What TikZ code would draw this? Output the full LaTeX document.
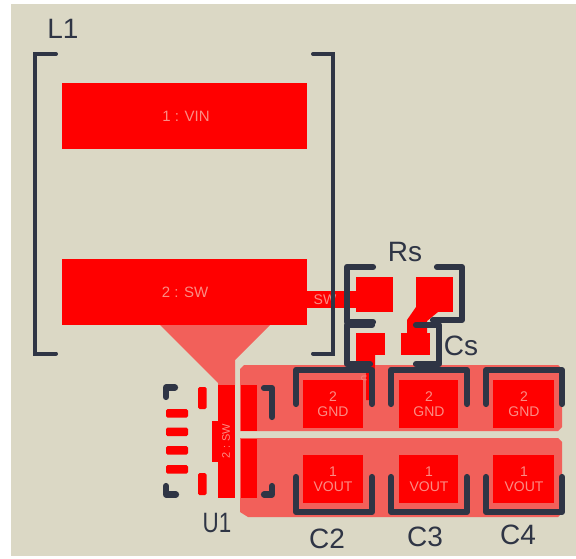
\documentclass[tikz,border=0pt]{standalone}
\usepackage{fontspec}
\setmainfont{Liberation Sans}
\definecolor{bgc}{HTML}{DBD8C5}
\definecolor{padc}{HTML}{FF0000}
\definecolor{pourc}{HTML}{F2605A}
\definecolor{silkc}{HTML}{2F3545}
\definecolor{labc}{HTML}{FB8C84}
\tikzset{
 x=1pt,y=-1pt,
 padshape/.style={fill=padc,draw=none},
 pour/.style={fill=pourc,draw=none},
 silk/.style={draw=silkc,line width=6.2pt,line cap=round,line join=round},
 silkthin/.style={draw=silkc,line width=4pt,line cap=round,line join=miter},
 padlabel/.style={text=labc,font=\fontsize{14}{15}\selectfont,align=center,inner sep=0pt},
 desig/.style={text=silkc,font=\fontsize{28}{30}\selectfont,inner sep=0pt},
}
\begin{document}
\begin{tikzpicture}
\useasboundingbox (0,0) rectangle (576,559);
\fill[white] (0,0) rectangle (576,559);
\fill[bgc] (11,4) rectangle (576,556);
% pours
\path[pour] (160,325) -- (270,325) -- (235,360) -- (235,385) -- (218,385) -- (218,383) -- cycle;
\path[pour] (244,365) -- (558,365) -- (562,369) -- (562,427) -- (558,431) -- (240,431) -- (240,369) -- cycle;
\path[pour] (240,438) -- (558,438) -- (562,442) -- (562,513) -- (558,517) -- (248,517) -- (240,512) -- cycle;
% L1 pads
\path[padshape] (62,83) rectangle (307,149);
\path[padshape] (62,259) rectangle (307,325);
\node[padlabel,font=\fontsize{15}{16}\selectfont] (vin) at (186,116) {1 : VIN};
\node[padlabel,font=\fontsize{15}{16}\selectfont] (sw) at (185,292) {2 : SW};
% SW trace
\path[padshape] (307,291) rectangle (356,308);
% passive pads
\path[padshape] (356,277) rectangle (393,312);
\path[padshape] (416,277) rectangle (453,312);
\path[padshape] (356,333) rectangle (385,355);
\path[padshape] (401,333) rectangle (430,355);
\path[padshape] (416,307) -- (407,320) -- (407,335) -- (427,335) -- (427,321) -- (438,312) -- (416,312) -- cycle;
\path[padshape] (356,355) -- (375,355) -- (375,365) -- (374,400) -- (366,400) -- (366,365) -- (356,365) -- cycle;
\node[padlabel,font=\fontsize{8}{9}\selectfont,rotate=-90] (us) at (364,372) {1 : U};
% U1 pads
\path[padshape] (218,385) rectangle (235,498);
\path[padshape] (212,421) rectangle (218,462);
\path[padshape] (240.5,385) rectangle (257,430.5);
\path[padshape] (240.5,439) rectangle (257,498);
\foreach \y in {409,427.5,446,465}
  \path[padshape,rounded corners=1.5pt] (166,\y) rectangle ++(22,8.5);
\path[padshape,rounded corners=1.5pt] (198,387) rectangle (206.5,409);
\path[padshape,rounded corners=1.5pt] (198,473) rectangle (206.5,495);
\node[padlabel,font=\fontsize{11}{12}\selectfont,rotate=90] (swu) at (226,441) {2 : SW};
% capacitor pads
\foreach \x/\w in {303/60,399/59,493/61}{
  \path[padshape] (\x,380) rectangle ++(\w,48);
  \path[padshape] (\x,455) rectangle ++(\w,48);
}
\foreach \x in {333,429,524}{
  \node[padlabel] at (\x,404) {2\\GND};
  \node[padlabel] at (\x,479.5) {1\\VOUT};
}
\node[padlabel] (swl) at (325,300) {SW};
% silkscreen
\draw[silkthin] (56,54) -- (35,54) -- (35,353.5) -- (56,353.5);
\draw[silkthin] (313,54) -- (333,54) -- (333,353.5) -- (313,353.5);
\draw[silk] (373,267) -- (347,267) -- (347,322) -- (373,322);
\draw[silk] (437,267) -- (462,267) -- (462,320) -- (433,320);
\draw[silk] (372,325) -- (347,325) -- (347,364) -- (370,364);
\draw[silk] (416,325) -- (439,325) -- (439,364) -- (416,364);
\foreach \a/\b in {296/372,391/467,486/562}{
  \draw[silk] (\a,404) -- (\a,370) -- (\b,370) -- (\b,404);
  \draw[silk] (\a,477) -- (\a,512) -- (\b,512) -- (\b,477);
}
\draw[silk] (166,397) -- (166,387.5) -- (175,387.5);
\draw[silk] (166,486) -- (166,494.5) -- (176,494.5);
\draw[silk] (264,388) -- (272,388) -- (272,417);
\draw[silk] (264,494.5) -- (272,494.5) -- (272,486);
% designators
\node[desig] (l1) at (63,29) {L1};
\node[desig] (rs) at (405,252) {Rs};
\node[desig] (cs) at (461,346) {Cs};
\node[desig,xscale=0.8] (u1) at (217,523) {U1};
\node[desig] (c2) at (327,539) {C2};
\node[desig] (c3) at (425,537) {C3};
\node[desig] (c4) at (518,535) {C4};
\end{tikzpicture}
\end{document}
